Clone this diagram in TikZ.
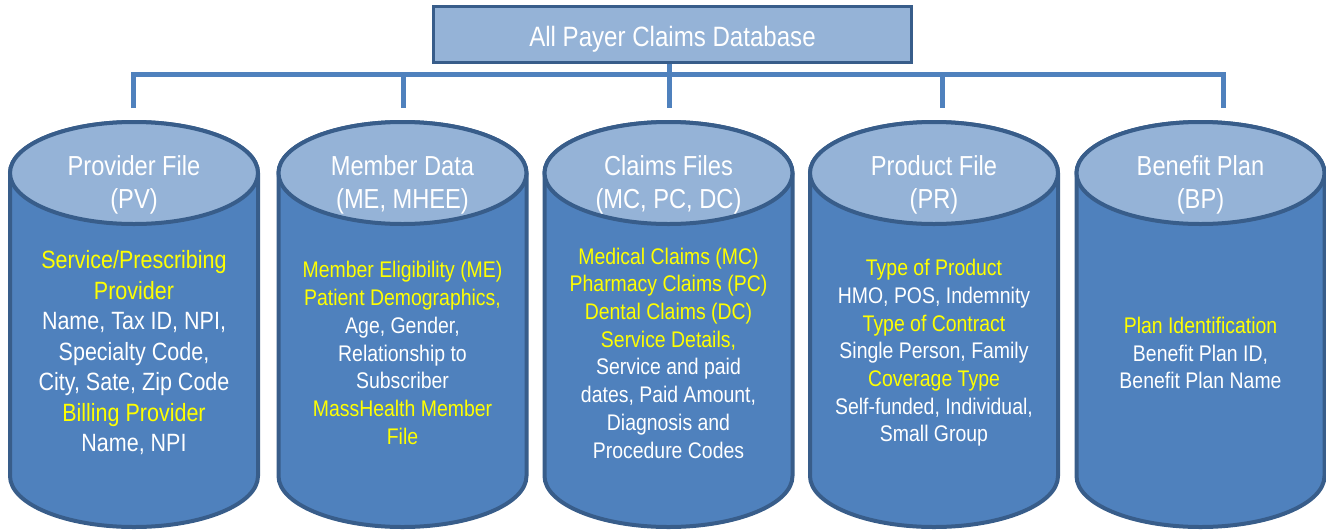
\documentclass[tikz,border=0pt]{standalone}
\usepackage{fontspec}
\setmainfont[FakeStretch=0.86]{Liberation Sans}
\definecolor{bodyblue}{HTML}{4F81BD}
\definecolor{topblue}{HTML}{95B3D7}
\definecolor{edgeblue}{HTML}{385D8A}
\definecolor{yel}{HTML}{FFFF00}
\tikzset{
  bus/.style={draw=bodyblue, line width=5pt},
  cylside/.style={draw=edgeblue, line width=4pt, fill=bodyblue},
  cyltop/.style={draw=edgeblue, line width=4pt, fill=topblue},
  cyltitle/.style={text=white, align=center, font=\fontsize{27.5}{33}\selectfont, inner sep=0pt},
  cylbody/.style={text=white, align=center, font=\fontsize{22.6}{27.7}\selectfont, inner sep=0pt},
  cylbodybig/.style={text=white, align=center, font=\fontsize{25}{30.5}\selectfont, inner sep=0pt},
  mainbox/.style={draw=edgeblue, line width=3pt, fill=topblue, minimum width=478pt, minimum height=56pt, inner sep=0pt, text height=23pt, text depth=0pt, text=white, font=\fontsize{28}{33}\selectfont},
}
\newcommand\dbcyl[1]{%
  \path[cylside] (#1-124,173) -- (#1-124,476) arc[start angle=180, end angle=360, x radius=124pt, y radius=51pt] -- (#1+124,173) arc[start angle=0, end angle=180, x radius=124pt, y radius=51pt] -- cycle;
  \path[cyltop] (#1,173) ellipse[x radius=124pt, y radius=51pt];
}
\begin{document}
\begin{tikzpicture}[x=1pt, y=-1pt]
\useasboundingbox (0,0) rectangle (1326,531);

% top box
\node[mainbox] (apcd) at (672.5,34.5) {All Payer Claims Database};

% bus coordinates
\coordinate (c0) at (669,74);
\coordinate (c1) at (133,74);
\coordinate (c2) at (403,74);
\coordinate (c4) at (942,74);
\coordinate (c5) at (1223,74);
\coordinate (d1) at (133,108);
\coordinate (d2) at (403,108);
\coordinate (d3) at (669,108);
\coordinate (d4) at (942,108);
\coordinate (d5) at (1223,108);

\draw[bus] (d1) -- (c1) -- (c5) -- (d5);
\draw[bus] (apcd.south -| c0) -- (d3);
\draw[bus] (c2) -- (d2);
\draw[bus] (c4) -- (d4);

% cylinders
\dbcyl{134}
\dbcyl{402.5}
\dbcyl{668.5}
\dbcyl{934}
\dbcyl{1200.5}

% titles
\node[cyltitle] (t1) at (134,185) {Provider File\\(PV)};
\node[cyltitle] (t2) at (402.5,185) {Member Data\\(ME, MHEE)};
\node[cyltitle] (t3) at (668.5,185) {Claims Files\\(MC, PC, DC)};
\node[cyltitle] (t4) at (934,185) {Product File\\(PR)};
\node[cyltitle] (t5) at (1200.5,185) {Benefit Plan\\(BP)};

% bodies
\node[cylbodybig] (b1) at (134,353) {\textcolor{yel}{Service/Prescribing}\\\textcolor{yel}{Provider}\\Name, Tax ID, NPI,\\Specialty Code,\\City, Sate, Zip Code\\\textcolor{yel}{Billing Provider}\\Name, NPI};
\node[cylbody] (b2) at (402.5,353) {\textcolor{yel}{Member Eligibility (ME)}\\\textcolor{yel}{Patient Demographics,}\\Age, Gender,\\Relationship to\\Subscriber\\\textcolor{yel}{MassHealth Member}\\\textcolor{yel}{File}};
\node[cylbody] (b3) at (668.5,353) {\textcolor{yel}{Medical Claims (MC)}\\\textcolor{yel}{Pharmacy Claims (PC)}\\\textcolor{yel}{Dental Claims (DC)}\\\textcolor{yel}{Service Details,}\\Service and paid\\dates, Paid Amount,\\Diagnosis and\\Procedure Codes};
\node[cylbody] (b4) at (934,353) {\textcolor{yel}{Type of Product}\\HMO, POS, Indemnity\\\textcolor{yel}{Type of Contract}\\Single Person, Family\\\textcolor{yel}{Coverage Type}\\Self-funded, Individual,\\Small Group};
\node[cylbody] (b5) at (1200.5,353) {\textcolor{yel}{Plan Identification}\\Benefit Plan ID,\\Benefit Plan Name};
\end{tikzpicture}
\end{document}
